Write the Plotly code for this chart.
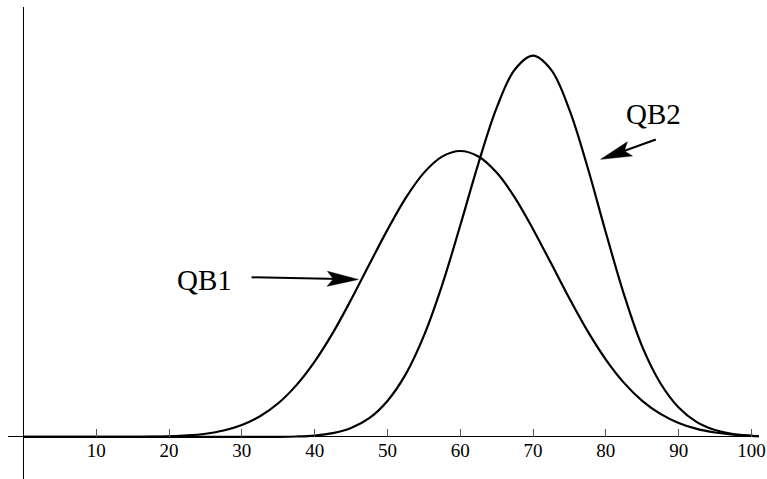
import math
import plotly.graph_objects as go

# ---- data ----
x_vals = [0, 2.5, 5, 7.5, 10, 12.5, 15, 17.5, 20, 22.5, 25, 27.5, 30, 32.5, 35, 37.5,
          40, 42.5, 45, 47.5, 50, 52.5, 55, 57.5, 60, 62.5, 65, 67.5, 70, 72.5, 75,
          77.5, 80, 82.5, 85, 87.5, 90, 92.5, 95, 97.5, 100, 101]

qb1 = [0, 0, 0, 0.0003, 0.001, 0.0034, 0.0102, 0.0284, 0.072, 0.167, 0.357, 0.71,
       1.313, 2.28, 3.71, 5.71, 8.30, 11.46, 15.11, 18.99, 22.81, 26.31, 29.09, 30.88,
       31.50, 30.89, 29.12, 26.37, 22.89, 19.10, 15.25, 11.66, 8.53, 5.96, 3.98, 2.54,
       1.545, 0.89, 0.495, 0.259, 0.130, 0.097]

qb2 = [0, 0, 0, 0, 0, 0, 0, 0, 0, 0, 0, 0.0002, 0.0011, 0.0045, 0.0165, 0.054, 0.158,
       0.417, 0.99, 2.07, 3.97, 6.89, 11.13, 16.70, 23.29, 30.14, 36.24, 40.48, 42.00,
       40.43, 36.03, 29.68, 22.52, 15.68, 9.95, 5.92, 3.25, 1.64, 0.77, 0.33, 0.132, 0.090]

tick_vals = [10, 20, 30, 40, 50, 60, 70, 80, 90, 100]
tick_text = ["10", "20", "30", "40", "50", "60", "70", "80", "90", "100"]

labels = ["QB1", "QB2"]
label_pos = [(24.88, 17.29), (86.54, 35.52)]
arrow_tail = [(31.13, 17.59), (87.07, 32.82)]
arrow_tip = [(46.0, 17.35), (79.30, 30.58)]

# ---- layout constants ----
W, H = 767, 479
ML, MR, MT, MB = 8, 8, 7, 0
X_RANGE = [-2.12, 101.04]
Y_RANGE = [-4.63, 47.36]
SERIF = "Liberation Serif, Times New Roman, DejaVu Serif, serif"

plot_w = W - ML - MR
plot_h = H - MT - MB
sx = plot_w / (X_RANGE[1] - X_RANGE[0])
sy = plot_h / (Y_RANGE[1] - Y_RANGE[0])

fig = go.Figure()
for series in (qb1, qb2):
    fig.add_trace(go.Scatter(
        x=x_vals, y=series, mode="lines",
        line=dict(color="black", width=2.2, shape="spline", smoothing=1.0),
        hoverinfo="skip", showlegend=False))

annotations = []
shapes = []
for name, (lx, ly), (tx0, ty0), (hx, hy) in zip(labels, label_pos, arrow_tail, arrow_tip):
    annotations.append(dict(
        x=lx, y=ly, xref="x", yref="y", text=name, showarrow=False,
        font=dict(family=SERIF, size=29, color="black"),
        xanchor="center", yanchor="middle"))
    # shaft
    annotations.append(dict(
        x=hx, y=hy, xref="x", yref="y", ax=tx0, ay=ty0, axref="x", ayref="y",
        text="", showarrow=True, arrowhead=0, arrowwidth=2, arrowcolor="black",
        standoff=18, startstandoff=0))
    # arrow head (pixel-sized, anchored at tip)
    dx = (hx - tx0) * sx
    dy = (hy - ty0) * sy
    n = math.hypot(dx, dy)
    ux, uy = dx / n, dy / n
    px, py = -uy, ux
    L, HW, NOTCH = 31.0, 7.5, 25.0
    ax_, ay_ = -L * ux + HW * px, -L * uy + HW * py
    bx_, by_ = -L * ux - HW * px, -L * uy - HW * py
    nx_, ny_ = -NOTCH * ux, -NOTCH * uy
    path = f"M0,0 L{ax_:.2f},{ay_:.2f} L{nx_:.2f},{ny_:.2f} L{bx_:.2f},{by_:.2f} Z"
    shapes.append(dict(
        type="path", xref="x", yref="y", xsizemode="pixel", ysizemode="pixel",
        xanchor=hx, yanchor=hy, path=path, fillcolor="black",
        line=dict(color="black", width=0.5), layer="above"))

x_axis_pos = (0 - Y_RANGE[0]) / (Y_RANGE[1] - Y_RANGE[0])

fig.update_layout(
    width=W, height=H,
    margin=dict(l=ML, r=MR, t=MT, b=MB, pad=0),
    paper_bgcolor="white", plot_bgcolor="white",
    showlegend=False,
    annotations=annotations,
    shapes=shapes,
    xaxis=dict(
        range=X_RANGE, showgrid=False, showline=False,
        zeroline=True, zerolinecolor="black", zerolinewidth=1.3,
        tickmode="array", tickvals=tick_vals, ticktext=tick_text,
        ticks="inside", ticklen=8, tickwidth=1, tickcolor="#555555",
        tickfont=dict(family=SERIF, size=19, color="black"),
        anchor="free", position=x_axis_pos, automargin=False,
        fixedrange=True),
    yaxis=dict(
        range=Y_RANGE, showgrid=False, showline=False,
        zeroline=True, zerolinecolor="black", zerolinewidth=1.3,
        showticklabels=False, ticks="", automargin=False,
        fixedrange=True),
)

fig.write_html(
    "out.html",
    config={"displayModeBar": False},
    post_script="document.body.style.margin='0';document.body.style.overflow='hidden';",
)
